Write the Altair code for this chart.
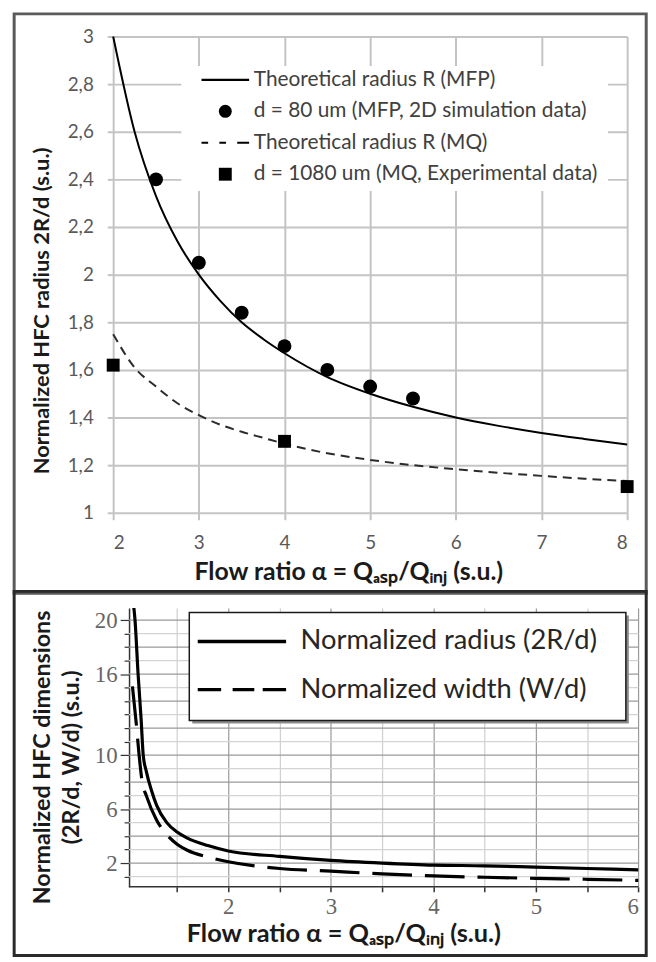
import altair as alt
import pandas as pd

# ---------------- top panel data ----------------
top_alpha = [2, 2.25, 2.5, 2.75, 3, 3.25, 3.5, 3.75, 4, 4.5, 5, 5.5, 6, 6.5, 7, 7.5, 8]
mfp_theory = [3.00, 2.60, 2.33, 2.14, 2.00, 1.89, 1.80, 1.73, 1.67, 1.57, 1.50, 1.445, 1.40, 1.365, 1.335, 1.31, 1.287]
mq_theory = [1.75, 1.61, 1.53, 1.46, 1.41, 1.37, 1.34, 1.315, 1.29, 1.25, 1.222, 1.20, 1.183, 1.168, 1.155, 1.143, 1.133]
sim_alpha = [2.5, 3, 3.5, 4, 4.5, 5, 5.5]
sim_values = [2.40, 2.05, 1.84, 1.70, 1.60, 1.53, 1.48]
exp_alpha = [2, 4, 8]
exp_values = [1.62, 1.30, 1.11]
top_labels = ["Theoretical radius R (MFP)", "d = 80 um (MFP, 2D simulation data)",
              "Theoretical radius R (MQ)", "d = 1080 um (MQ, Experimental data)"]
top_x_ticks = [2, 3, 4, 5, 6, 7, 8]
top_y_ticks = [1, 1.2, 1.4, 1.6, 1.8, 2, 2.2, 2.4, 2.6, 2.8, 3]

# ---------------- bottom panel data ----------------
rad_alpha = [1.07, 1.09, 1.12, 1.15, 1.17, 1.2, 1.25, 1.3, 1.4, 1.5, 1.6, 1.8, 2.0, 2.5, 3, 3.5, 4, 4.5, 5, 5.5, 6]
rad_values = [21.5, 20, 16, 12.6, 10, 8.8, 7.4, 6.3, 5.0, 4.3, 3.85, 3.3, 2.9, 2.5, 2.2, 2.0, 1.85, 1.8, 1.7, 1.6, 1.5]
wid_alpha = [1.065, 1.1, 1.13, 1.16, 1.2, 1.3, 1.4, 1.5, 1.6, 1.8, 2.0, 2.5, 3, 3.5, 4, 4.5, 5, 5.5, 6]
wid_values = [15.1, 12.5, 10, 8.0, 7.0, 5.2, 4.1, 3.4, 2.95, 2.45, 2.1, 1.6, 1.4, 1.2, 1.05, 0.95, 0.87, 0.8, 0.72]
bottom_labels = ["Normalized radius (2R/d)", "Normalized width (W/d)"]
bottom_x_ticks = [1.5, 2, 2.5, 3, 3.5, 4, 4.5, 5, 5.5, 6]
bottom_y_ticks = list(range(1, 21))
bottom_y_labelled = [2, 6, 10, 16, 20]

X_TITLE = "Flow ratio \u03b1 = Q\u2090\u209b\u209a/Q\u1d62\u2099\u2c7c (s.u.)"
SANS = "Lato"
SERIF = "Liberation Serif"
GRID = "#c4c4c4"

# ================= TOP PANEL =================
top_w, top_h = 518, 480
xs_top = alt.Scale(domain=[2, 8], nice=False, zero=False)
ys_top = alt.Scale(domain=[1, 3], nice=False, zero=False)

X_top = alt.X("a:Q", scale=xs_top, axis=alt.Axis(
    values=top_x_ticks, grid=True, gridColor=GRID, gridWidth=2, domain=False,
    tickColor=GRID, tickWidth=2, tickSize=7,
    labelFont=SANS, labelFontSize=19, labelColor="#595959", labelPadding=14,
    title=X_TITLE, titleFont=SANS, titleFontSize=25, titleFontWeight="bold",
    titleColor="#1a1a1a", titleX=237, titleY=67, titleBaseline="alphabetic"))
Y_top = alt.Y("y:Q", scale=ys_top, axis=alt.Axis(
    values=top_y_ticks, grid=True, gridColor=GRID, gridWidth=2, domain=False,
    tickColor=GRID, tickWidth=2, tickSize=6,
    labelExpr="replace(format(datum.value, '.1~f'), '.', ',')",
    labelFont=SANS, labelFontSize=19, labelColor="#595959", labelPadding=14,
    title="Normalized HFC radius 2R/d (s.u.)", titleFont=SANS, titleFontSize=22,
    titleFontWeight="bold", titleColor="#1a1a1a", titleX=-60, titleY=276))

one = pd.DataFrame({"k": [0]})

top_box = alt.Chart(one).mark_rect(fill="transparent", stroke="#5a5a5a", strokeWidth=3).encode(
    x=alt.value(-99.8), x2=alt.value(537.2), y=alt.value(-22.8), y2=alt.value(561.2))
top_leg_bg = alt.Chart(one).mark_rect(fill="white").encode(
    x=alt.value(68.7), x2=alt.value(498.7), y=alt.value(29.7), y2=alt.value(155.7))

mfp_df = pd.DataFrame({"a": top_alpha, "y": mfp_theory})
mq_df = pd.DataFrame({"a": top_alpha, "y": mq_theory})
sim_df = pd.DataFrame({"a": sim_alpha, "y": sim_values})
exp_df = pd.DataFrame({"a": exp_alpha, "y": exp_values})

mfp_line = alt.Chart(mfp_df).mark_line(interpolate="monotone", color="black", strokeWidth=2).encode(x=X_top, y=Y_top)
mq_line = alt.Chart(mq_df).mark_line(interpolate="monotone", color="#2b2b2b", strokeWidth=2,
                                     strokeDash=[9, 6]).encode(x=X_top, y=Y_top)
sim_pts = alt.Chart(sim_df).mark_point(filled=True, shape="circle", size=196, color="black", opacity=1).encode(x=X_top, y=Y_top)
exp_pts = alt.Chart(exp_df).mark_point(filled=True, shape="square", size=169, color="black", opacity=1).encode(x=X_top, y=Y_top)

# legend sample symbols (filled thin bars, scaled by the symbol size)
top_solid_path = "M-3.69,-0.16H3.69V0.16H-3.69Z"
top_dash_path = ("M-3.69,-0.16H-2.66V0.16H-3.69Z"
                 "M-0.92,-0.16H0.11V0.16H-0.92Z"
                 "M1.85,-0.16H3.69V0.16H1.85Z")
top_legend = alt.Chart(pd.DataFrame({"label": top_labels})).mark_point(
    filled=True, size=169, color="black", opacity=0).encode(
    shape=alt.Shape("label:N",
                    scale=alt.Scale(domain=top_labels,
                                    range=[top_solid_path, "circle", top_dash_path, "square"]),
                    legend=alt.Legend(orient="none", legendX=89, legendY=33.2, title=None,
                                      padding=0, symbolSize=169, symbolOffset=13.5, labelOffset=18.2,
                                      rowPadding=9.7, labelFont=SANS, labelFontSize=21,
                                      labelColor="#404040", labelLimit=600,
                                      symbolFillColor="black", symbolStrokeColor="black",
                                      symbolStrokeWidth=0, symbolOpacity=1)))

top = alt.layer(top_box, top_leg_bg, mfp_line, mq_line, sim_pts, exp_pts, top_legend).properties(
    width=top_w, height=top_h)

# ================= BOTTOM PANEL =================
bot_w, bot_h = 529.4, 281
xs_bot = alt.Scale(domain=[0.877, 6], nice=False, zero=False)
ys_bot = alt.Scale(domain=[0.24, 20.9], nice=False, zero=False)

X_bot = alt.X("a:Q", scale=xs_bot, axis=alt.Axis(
    values=bottom_x_ticks, grid=True,
    gridColor={"condition": {"test": "datum.value % 1 === 0", "value": "#9a9a9a"}, "value": "#cfcfcf"},
    gridWidth=1.2, domain=False, tickColor="#333333", tickWidth=1.5, tickSize=5,
    labelExpr="datum.value % 1 === 0 ? format(datum.value, 'd') : ''",
    labelFont=SERIF, labelFontSize=23, labelColor="#666666", labelPadding=4,
    title=X_TITLE, titleFont=SANS, titleFontSize=25.5, titleFontWeight="bold",
    titleColor="#1a1a1a", titleX=232, titleY=55, titleBaseline="alphabetic"))
Y_bot = alt.Y("y:Q", scale=ys_bot, axis=alt.Axis(
    values=bottom_y_ticks, grid=False, offset=-16,
    domain=True, domainColor="#333333", domainWidth=1.5,
    tickColor="#333333", tickWidth=1.2,
    tickSize={"condition": {"test": "indexof([2, 6, 10, 16, 20], datum.value) >= 0", "value": 9}, "value": 5},
    labelExpr="indexof([2, 6, 10, 16, 20], datum.value) >= 0 ? datum.label : ''",
    labelFont=SERIF, labelFontSize=23, labelColor="#666666", labelPadding=3,
    title=["Normalized HFC dimensions", "(2R/d, W/d) (s.u.)"], titleFont=SANS,
    titleFontSize=23.5, titleFontWeight="bold", titleColor="#1a1a1a",
    titleLineHeight=28.7, titleX=-75, titleY=150))

bot_box = alt.Chart(one).mark_rect(fill="transparent", stroke="#2a2a2a", strokeWidth=3).encode(
    x=alt.value(-99.8), x2=alt.value(537.2), y=alt.value(-16.8), y2=alt.value(350.2))

hgrid_df = pd.DataFrame({"y": bottom_y_ticks})
hgrid = alt.Chart(hgrid_df).mark_rule(strokeWidth=1.2).encode(
    y=Y_bot, x=alt.XDatum(1.03, scale=xs_bot), x2=alt.X2Datum(6),
    color=alt.condition("datum.y % 2 === 0", alt.value("#9a9a9a"), alt.value("#d4d4d4")))
xaxis_line = alt.Chart(pd.DataFrame({"y": [0.24]})).mark_rule(color="#333333", strokeWidth=1.5).encode(
    y=Y_bot, x=alt.XDatum(1.03, scale=xs_bot), x2=alt.X2Datum(6))

leg_shadow = alt.Chart(one).mark_rect(fill="#8c8c8c").encode(
    x=alt.value(79.7), x2=alt.value(519.7), y=alt.value(7.4), y2=alt.value(116.4))
leg_box = alt.Chart(one).mark_rect(fill="white", stroke="#1a1a1a", strokeWidth=1.5).encode(
    x=alt.value(76.7), x2=alt.value(516.7), y=alt.value(4.4), y2=alt.value(113.4))

rad_df = pd.DataFrame({"a": rad_alpha, "y": rad_values})
wid_df = pd.DataFrame({"a": wid_alpha, "y": wid_values})
rad_line = alt.Chart(rad_df).mark_line(interpolate="monotone", color="black", strokeWidth=3.2, clip=True).encode(x=X_bot, y=Y_bot)
wid_line = alt.Chart(wid_df).mark_line(interpolate="monotone", color="black", strokeWidth=3.2,
                                       strokeDash=[40, 13], clip=True).encode(x=X_bot, y=Y_bot)

bot_solid_path = "M-7.42,-0.29H7.42V0.29H-7.42Z"
bot_dash_path = ("M-7.42,-0.29H-3.49V0.29H-7.42Z"
                 "M-1.56,-0.29H2.08V0.29H-1.56Z"
                 "M3.49,-0.29H7.42V0.29H3.49Z")
bot_legend = alt.Chart(pd.DataFrame({"label": bottom_labels})).mark_point(
    filled=True, size=144, color="black", opacity=0).encode(
    shape=alt.Shape("label:N",
                    scale=alt.Scale(domain=bottom_labels, range=[bot_solid_path, bot_dash_path]),
                    legend=alt.Legend(orient="none", legendX=85, legendY=19.9, title=None,
                                      padding=0, symbolSize=144, symbolOffset=31, labelOffset=45.4,
                                      rowPadding=19.6, labelFont=SANS, labelFontSize=27.5,
                                      labelColor="#262626", labelLimit=600,
                                      symbolFillColor="black", symbolStrokeColor="black",
                                      symbolStrokeWidth=0, symbolOpacity=1)))

bottom = alt.layer(bot_box, hgrid, xaxis_line, leg_shadow, leg_box, rad_line, wid_line, bot_legend).properties(
    width=bot_w, height=bot_h)

chart = alt.vconcat(top, bottom, spacing=96, bounds="flush").resolve_scale(
    shape="independent", x="independent", y="independent").resolve_legend(shape="independent").properties(
    padding={"left": 4, "top": 0, "right": 0, "bottom": 0}, background="white").configure_view(strokeWidth=0)

chart.save("out.html", embed_options={"renderer": "svg", "actions": False})
